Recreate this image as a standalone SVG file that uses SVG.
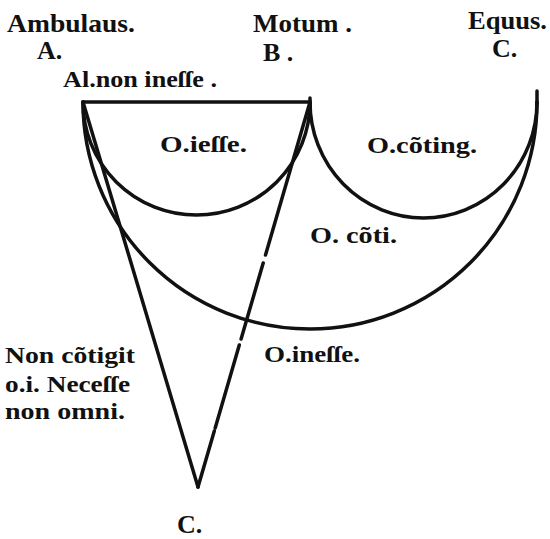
<svg xmlns="http://www.w3.org/2000/svg" width="550" height="539" viewBox="0 0 550 539">
<style>
  .t { font-family: "Liberation Serif", "DejaVu Serif", serif; font-weight: bold; fill: #111; }
  .big { font-size: 26px; }
  .mid { font-size: 24px; }
  .ln { fill: none; stroke: #111; stroke-width: 3.5; stroke-linecap: round; }
</style>
<rect width="550" height="539" fill="#fff"/>

<g id="connectors">
  <path class="ln" d="M83,102 H310"/>
  <path class="ln" d="M83,102 A113.5,113 0 0 0 310,102"/>
  <path class="ln" d="M310,102 A113.5,116 0 0 0 537,102"/>
  <path class="ln" d="M83,102 A227,227 0 0 0 537,102"/>
  <path class="ln" d="M537,91 V104"/>
  <path class="ln" d="M310,98 V106"/>
  <path class="ln" d="M83,102 L198,487"/>
  <path class="ln" d="M310,102 L265.5,255 M263.2,263 L241.1,339 M239.3,345 L215.2,428 M214.3,431 L198,487"/>
</g>

<g id="node-A">
  <text class="t big" x="7" y="32" textLength="128" lengthAdjust="spacingAndGlyphs">Ambulaus.</text>
  <text class="t big" x="37" y="59">A.</text>
</g>
<g id="node-B">
  <text class="t big" x="253" y="32" textLength="99" lengthAdjust="spacingAndGlyphs">Motum .</text>
  <text class="t big" x="263" y="61">B .</text>
</g>
<g id="node-C-top">
  <text class="t big" x="468" y="29" textLength="79" lengthAdjust="spacingAndGlyphs">Equus.</text>
  <text class="t big" x="492" y="57">C.</text>
</g>
<g id="label-al-non-inesse">
  <text class="t mid" x="63" y="87" textLength="154" lengthAdjust="spacingAndGlyphs">Al.non ineſſe .</text>
</g>
<g id="label-o-iesse">
  <text class="t mid" x="160" y="152" textLength="87" lengthAdjust="spacingAndGlyphs">O.ieſſe.</text>
</g>
<g id="label-o-coting">
  <text class="t mid" x="367" y="153" textLength="110" lengthAdjust="spacingAndGlyphs">O.cõting.</text>
</g>
<g id="label-o-coti">
  <text class="t mid" x="310" y="243" textLength="87" lengthAdjust="spacingAndGlyphs">O. cõti.</text>
</g>
<g id="label-o-inesse">
  <text class="t mid" x="264" y="362" textLength="96" lengthAdjust="spacingAndGlyphs">O.ineſſe.</text>
</g>
<g id="label-non-cotigit">
  <text class="t mid" x="5" y="363" textLength="130" lengthAdjust="spacingAndGlyphs">Non cõtigit</text>
  <text class="t mid" x="5" y="392" textLength="125" lengthAdjust="spacingAndGlyphs">o.i. Neceſſe</text>
  <text class="t mid" x="5" y="419" textLength="120" lengthAdjust="spacingAndGlyphs">non omni.</text>
</g>
<g id="node-C-bottom">
  <text class="t big" x="177" y="533">C.</text>
</g>
</svg>
